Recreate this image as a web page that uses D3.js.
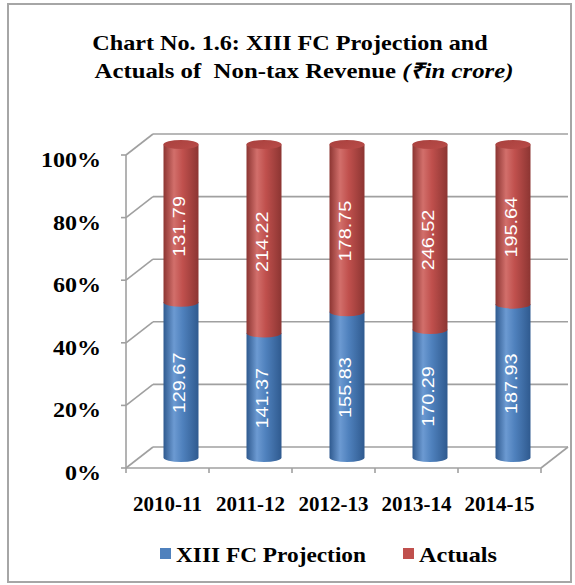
<!DOCTYPE html>
<html>
<head>
<meta charset="utf-8">
<script src="https://cdn.jsdelivr.net/npm/d3@7"></script>
<style>
  html, body { margin: 0; padding: 0; background: #fff; }
  svg { display: block; }
  .serif { font-family: "Liberation Serif", "Times New Roman", serif; font-weight: bold; }
  .sans { font-family: "Liberation Sans", Arial, sans-serif; }
</style>
</head>
<body>
<svg id="chart" width="575" height="585"></svg>
<script>
// Non-tax revenue: XIII FC projection vs actuals (₹ in crore)
const categories = ["2010-11", "2011-12", "2012-13", "2013-14", "2014-15"];
const projection = [129.67, 141.37, 155.83, 170.29, 187.93];
const actuals    = [131.79, 214.22, 178.75, 246.52, 195.64];
const percentTicks = [0, 20, 40, 60, 80, 100];
const seriesNames = ["XIII FC Projection", "Actuals"];
const seriesColors = ["#4F81BD", "#C0504D"];

const svg = d3.select("#chart");

// widen a text element horizontally by a factor
function stretch(sel, f) {
  sel.each(function () {
    const w = this.getComputedTextLength();
    d3.select(this).attr("textLength", w * f).attr("lengthAdjust", "spacingAndGlyphs");
  });
}

// outer frame
svg.append("rect").attr("x", 8).attr("y", 4).attr("width", 563).attr("height", 578)
  .attr("fill", "#fff").attr("stroke", "#a6a6a6").attr("stroke-width", 2);

// title
const title = svg.append("g").attr("class", "serif")
  .style("font-size", "21px").attr("fill", "#000").attr("text-anchor", "middle");
title.append("text").attr("x", 290).attr("y", 50).text("Chart No. 1.6: XIII FC Projection and").call(stretch, 1.15);
const t2 = title.append("text").attr("x", 304).attr("y", 78).style("white-space", "pre");
t2.append("tspan").text("Actuals of  Non-tax Revenue ");
t2.append("tspan").style("font-style", "italic").text("(₹in crore)");
t2.call(stretch, 1.18);

// 3D plot geometry: front plane and depth offset
const x = d3.scaleBand().domain(categories).range([126, 541]).padding(0);
const y = d3.scaleLinear().domain([0, 100]).range([468, 155]);
const dx = 27, dy = -21;

const grid = svg.append("g").attr("stroke", "#a0a0a0").attr("stroke-width", 1.6).attr("fill", "none");
// back wall gridlines + left wall diagonals
percentTicks.forEach(t => {
  const yf = y(t);
  grid.append("line").attr("x1", x.range()[0] + dx).attr("x2", x.range()[1] + dx)
    .attr("y1", yf + dy).attr("y2", yf + dy);
  grid.append("line").attr("x1", x.range()[0]).attr("y1", yf)
    .attr("x2", x.range()[0] + dx).attr("y2", yf + dy);
  // tick mark on the value axis
  grid.append("line").attr("x1", x.range()[0] - 5).attr("x2", x.range()[0]).attr("y1", yf).attr("y2", yf);
});
// floor edges
grid.append("line").attr("x1", x.range()[0]).attr("x2", x.range()[1]).attr("y1", y(0)).attr("y2", y(0));
grid.append("line").attr("x1", x.range()[1]).attr("y1", y(0)).attr("x2", x.range()[1] + dx).attr("y2", y(0) + dy);
// value axis line
grid.append("line").attr("x1", x.range()[0]).attr("x2", x.range()[0]).attr("y1", y(100)).attr("y2", y(0));
// category ticks
const tickXs = categories.map(c => x(c)).concat([x.range()[1]]);
tickXs.forEach(tx => {
  grid.append("line").attr("x1", tx).attr("x2", tx).attr("y1", y(0)).attr("y2", y(0) + 5);
});

// value axis labels
svg.append("g").selectAll("text").data(percentTicks).join("text")
  .attr("class", "serif").style("font-size", "20px")
  .attr("x", x.range()[0] - 25).attr("y", d => y(d) + 12)
  .attr("text-anchor", "end").text(d => d + "%").call(stretch, 1.2);

// category labels
svg.append("g").selectAll("text").data(categories).join("text")
  .attr("class", "serif").style("font-size", "20px")
  .attr("x", d => x(d) + x.bandwidth() / 2).attr("y", 511)
  .attr("text-anchor", "middle").text(d => d).call(stretch, 1.05);

// shading gradients for the cylinders
const defs = svg.append("defs");
function shade(id, dark, mid, light) {
  const g = defs.append("linearGradient").attr("id", id).attr("x1", 0).attr("x2", 1).attr("y1", 0).attr("y2", 0);
  [[0, dark], [0.3, light], [0.55, mid], [1, dark]].forEach(([o, c]) =>
    g.append("stop").attr("offset", o).attr("stop-color", c));
}
shade("g0", "#2f5a8f", "#4F81BD", "#6c9ad2");
shade("g1", "#8c3532", "#C0504D", "#d26f6b");
const topGrad = defs.append("linearGradient").attr("id", "gtop").attr("x1", 0).attr("x2", 1).attr("y1", 0).attr("y2", 1);
topGrad.append("stop").attr("offset", 0).attr("stop-color", "#a8413e");
topGrad.append("stop").attr("offset", 1).attr("stop-color", "#b94b48");

// 100% stacked values
const rows = categories.map((c, i) => ({ cat: c, p: projection[i], a: actuals[i] }));
const stack = d3.stack().keys(["p", "a"]).offset(d3.stackOffsetExpand);
const layers = stack(rows);

const rx = 17.5, ry = 4.5;
const cx = c => x(c) + x.bandwidth() / 2 + dx / 2;
const cy = v => y(v * 100) + dy / 2;

const bars = svg.append("g");
layers.forEach((layer, li) => {
  layer.forEach((seg, i) => {
    const c = categories[i];
    const xc = cx(c), y0 = cy(seg[0]), y1 = cy(seg[1]);
    const p = `M${xc - rx},${y1} L${xc - rx},${y0} A${rx},${ry} 0 0 0 ${xc + rx},${y0} L${xc + rx},${y1} Z`;
    bars.append("path").attr("d", p).attr("fill", `url(#g${li})`);
  });
});
// top caps
categories.forEach(c => {
  bars.append("ellipse").attr("cx", cx(c)).attr("cy", cy(1)).attr("rx", rx).attr("ry", ry)
    .attr("fill", "url(#gtop)");
});

// value labels inside segments
const valueSets = [projection, actuals];
layers.forEach((layer, li) => {
  layer.forEach((seg, i) => {
    const xc = cx(categories[i]) - 2;
    const ym = (cy(seg[0]) + cy(seg[1])) / 2 + 3;
    bars.append("text").attr("class", "sans")
      .attr("transform", `translate(${xc},${ym}) rotate(-90)`)
      .attr("text-anchor", "middle").attr("dominant-baseline", "central")
      .style("font-size", "16.5px").attr("fill", "#fff")
      .text(valueSets[li][i].toFixed(2)).call(stretch, 1.2);
  });
});

// legend
const legendPos = [{ sx: 160, tx: 176 }, { sx: 403, tx: 419 }];
const legend = svg.append("g");
seriesNames.forEach((name, i) => {
  legend.append("rect").attr("x", legendPos[i].sx).attr("y", 548).attr("width", 11).attr("height", 11)
    .attr("fill", seriesColors[i]);
  legend.append("text").attr("class", "serif").style("font-size", "22px")
    .attr("x", legendPos[i].tx).attr("y", 562)
    .text(name).call(stretch, i === 0 ? 1.06 : 1.1);
});
</script>
</body>
</html>
